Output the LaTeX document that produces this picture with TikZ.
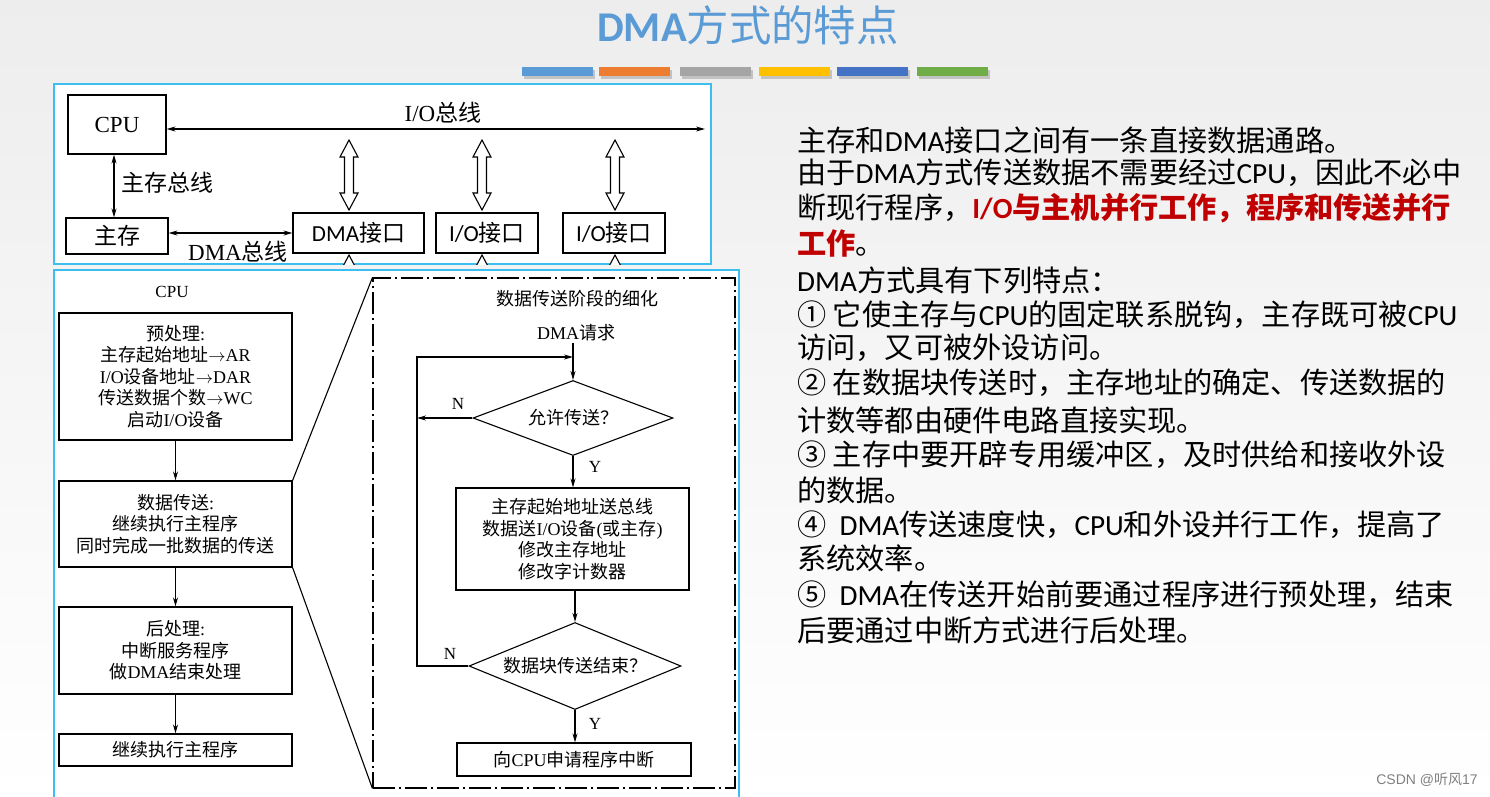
\documentclass[tikz,border=0pt]{standalone}
\usepackage{fontspec}
\setmainfont{Liberation Serif}
\newfontfamily\cjk{Noto Sans CJK SC}
\newfontfamily\cali{Carlito}
\newfontfamily\lsans{Liberation Sans}
\usetikzlibrary{arrows.meta,shapes.geometric}
\definecolor{titleblue}{HTML}{5B9BD5}
\definecolor{barA}{HTML}{5B9BD5}
\definecolor{barB}{HTML}{ED7D31}
\definecolor{barC}{HTML}{A5A5A5}
\definecolor{barD}{HTML}{FFC000}
\definecolor{barE}{HTML}{4472C4}
\definecolor{barF}{HTML}{70AD47}
\definecolor{framec}{HTML}{3CBFF0}
\definecolor{hotred}{HTML}{C00000}
\definecolor{bgtop}{HTML}{EDEDED}
\newcommand\tm[1]{{\rmfamily #1}}
\newcommand\la[1]{{\cali #1}}
\newcommand\redbold[1]{{\color{hotred}\bfseries #1}}
\newcommand\hollowarrow[3]{%
  \draw[line width=1.1pt, fill=white] (#1,#2) -- ++(9,17) -- ++(-4.5,0) -- (#1+4.5,#3-17) -- ++(4.5,0) -- (#1,#3) -- ++(-9,-17) -- ++(4.5,0) -- (#1-4.5,#2+17) -- ++(-4.5,0) -- cycle;}
\begin{document}
\begin{tikzpicture}[x=1pt,y=-1pt,
  box/.style={draw=black, line width=1.2pt, fill=white, inner sep=0pt},
  arr/.style={-{Stealth[length=9pt,width=5pt]}, line width=1.1pt},
  darr/.style={{Stealth[length=9pt,width=5pt]}-{Stealth[length=9pt,width=5pt]}, line width=1.1pt},
  toptext/.style={font=\cjk\fontsize{23}{23}\selectfont, inner sep=0pt},
  lowtext/.style={font=\cjk\fontsize{18}{21.5}\selectfont, align=center},
  rt/.style={anchor=west, inner sep=0pt, font=\cjk\fontsize{29.2}{29.2}\selectfont},
  cyanframe/.style={draw=framec, line width=1.3pt, fill=white},
  dashframe/.style={draw=black, line width=1.1pt, dash pattern=on 22pt off 4pt on 2pt off 4pt, inner sep=0pt},
  decision/.style={diamond, draw=black, line width=1.1pt, fill=white, inner sep=0pt, aspect=2.6}]
\useasboundingbox (0,0) rectangle (1490,796);
\clip (0,0) rectangle (1490,796);
\shade[top color=bgtop, bottom color=white] (0,0) rectangle (1490,796);

% title and colour bars
\node (title) at (748,25) {\cjk\fontsize{42.4}{42.4}\selectfont\color{titleblue}{\cali\bfseries DMA}方式的特点};
\foreach \x/\c in {522/barA,599/barB,680/barC,759/barD,837/barE,917/barF}{
  \fill[black, opacity=0.18] (\x+2,70) rectangle (\x+73,79);
  \fill[\c] (\x,67) rectangle (\x+71,76);
}

% ---------- top diagram ----------
\draw[cyanframe] (54,84) rectangle (711,264);
\node[box, toptext, minimum width=98pt, minimum height=59pt] (cpu) at (117,124.5) {\tm{CPU}};
\node[box, toptext, minimum width=102pt, minimum height=36pt] (mem) at (117,236) {主存};
\node[box, toptext, minimum width=131pt, minimum height=40pt] (dma) at (358.5,233) {\la{DMA}接口};
\node[box, toptext, minimum width=102pt, minimum height=40pt] (io1) at (487,233) {\la{I/O}接口};
\node[box, toptext, minimum width=102pt, minimum height=40pt] (io2) at (614,233) {\la{I/O}接口};
\coordinate (busR) at (705,129);
\draw[darr] (cpu.east |- busR) -- (busR);
\node[toptext] (buslabel) at (443,113) {\tm{I/O}总线};
\draw[darr] ([xshift=-3pt]cpu.south) -- ([xshift=-3pt]mem.north);
\node[toptext, anchor=west] (memlabel) at (121,183) {主存总线};
\draw[darr] (dma.west -| mem.east) -- (dma.west);
\node[toptext] (dmalabel) at (238,252) {\tm{DMA}总线};
\hollowarrow{349}{140}{210}
\hollowarrow{482}{140}{210}
\hollowarrow{615}{140}{210}
\begin{scope}
  \clip (54,84) rectangle (711,264);
  \hollowarrow{349}{255}{330}
  \hollowarrow{482}{255}{330}
  \hollowarrow{615}{255}{330}
\end{scope}

% ---------- lower diagram ----------
\draw[cyanframe] (54,270) rectangle (739,810);
\node[font=\fontsize{17}{17}\selectfont] (cpulow) at (172,292) {CPU};
\node[box, lowtext, minimum width=233pt, minimum height=127pt] (b1) at (175.5,376.5)
  {预处理\tm{:}\\主存起始地址\tm{$\rightarrow$AR}\\\tm{I/O}设备地址\tm{$\rightarrow$DAR}\\传送数据个数\tm{$\rightarrow$WC}\\启动\tm{I/O}设备};
\node[box, lowtext, minimum width=233pt, minimum height=86pt] (b2) at (175.5,524)
  {数据传送\tm{:}\\继续执行主程序\\同时完成一批数据的传送};
\node[box, lowtext, minimum width=233pt, minimum height=87pt] (b3) at (175.5,650.5)
  {后处理\tm{:}\\中断服务程序\\做\tm{DMA}结束处理};
\node[box, lowtext, minimum width=233pt, minimum height=32pt] (b4) at (175.5,750)
  {继续执行主程序};
\draw[arr] (b1.south) -- (b2.north);
\draw[arr] (b2.south) -- (b3.north);
\draw[arr] (b3.south) -- (b4.north);

\node[dashframe, minimum width=362pt, minimum height=510pt] (detail) at (554,533) {};
\draw[line width=1.1pt] (b2.north east) -- (detail.north west);
\draw[line width=1.1pt] (b2.south east) -- (detail.south west);

\node[lowtext] (dtitle) at (577,299) {数据传送阶段的细化};
\node[lowtext, inner sep=1pt] (req) at (576,333) {\tm{DMA}请求};
\node[decision, lowtext, minimum width=200pt, minimum height=75pt] (d1) at (573,418) {允许传送？};
\node[box, lowtext, minimum width=233pt, minimum height=102pt] (proc) at (572.5,539)
  {主存起始地址送总线\\数据送\tm{I/O}设备\tm{(}或主存\tm{)}\\修改主存地址\\修改字计数器};
\node[decision, lowtext, minimum width=212pt, minimum height=87pt] (d2) at (575,666) {数据块传送结束？};
\node[box, lowtext, minimum width=234pt, minimum height=33pt] (irq) at (574,759.5) {向\tm{CPU}申请程序中断};

\coordinate (loopTL) at (417,357);
\coordinate (loopBL) at (417,666);
\draw[arr] (d1.north |- req.south) -- (d1.north);
\draw[arr] (d1.west) -- (d1.west -| loopTL);
\draw[arr] (d2.west) -- (loopBL) -- (loopTL) -- (d1.north |- loopTL);
\draw[arr] (d1.south) -- (proc.north -| d1.south);
\draw[arr] (d2.north |- proc.south) -- (d2.north);
\draw[arr] (d2.south) -- (irq.north -| d2.south);
\node[font=\fontsize{17}{17}\selectfont] (n1) at (458,404) {N};
\node[font=\fontsize{17}{17}\selectfont] (n2) at (450,654) {N};
\node[font=\fontsize{17}{17}\selectfont] (y1) at (595,467) {Y};
\node[font=\fontsize{17}{17}\selectfont] (y2) at (595,724) {Y};

% ---------- right text ----------
\node[rt] (t1) at (797,140) {主存和\la{DMA}接口之间有一条直接数据通路。};
\node[rt] (t2) at (797,173) {由于\la{DMA}方式传送数据不需要经过\la{CPU}，因此不必中};
\node[rt] (t3) at (797,208) {断现行程序，\redbold{\la{I/O}与主机并行工作，程序和传送并行}};
\node[rt] (t4) at (797,243) {\redbold{工作}。};
\node[rt] (t5) at (797,280) {\la{DMA}方式具有下列特点：};
\node[rt] (t6) at (797,315) {① 它使主存与\la{CPU}的固定联系脱钩，主存既可被\la{CPU}};
\node[rt] (t7) at (797,348) {访问，又可被外设访问。};
\node[rt] (t8) at (797,383) {② 在数据块传送时，主存地址的确定、传送数据的};
\node[rt] (t9) at (797,420) {计数等都由硬件电路直接实现。};
\node[rt] (t10) at (797,455) {③ 主存中要开辟专用缓冲区，及时供给和接收外设};
\node[rt] (t11) at (797,490) {的数据。};
\node[rt] (t12) at (797,525) {④ \la{\ DMA}传送速度快，\la{CPU}和外设并行工作，提高了};
\node[rt] (t13) at (797,558) {系统效率。};
\node[rt] (t14) at (797,595) {⑤ \la{\ DMA}在传送开始前要通过程序进行预处理，结束};
\node[rt] (t15) at (797,630) {后要通过中断方式进行后处理。};

\node[font=\fontsize{14}{14}\selectfont, text=black!50, inner sep=0pt] (csdn) at (1427,780) {\lsans CSDN @{\cjk 听风}17};
\end{tikzpicture}
\end{document}
